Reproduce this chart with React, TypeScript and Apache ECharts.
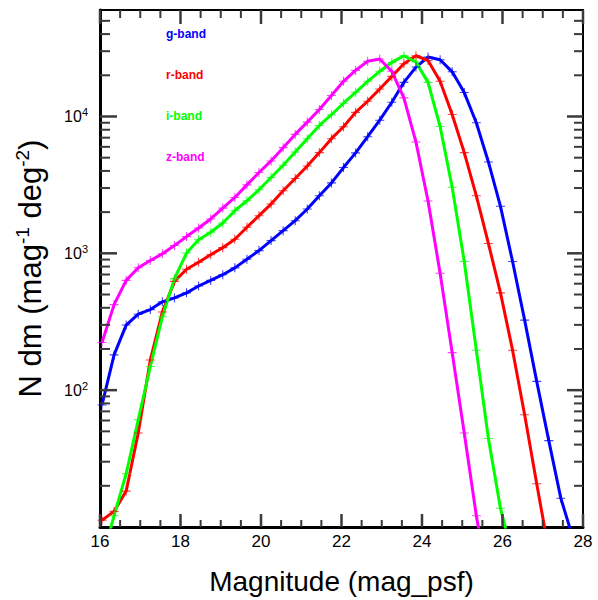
import React, { useEffect, useRef } from "react";
import * as echarts from "echarts";

// Bin centres (mag_psf)
const magnitudes = [
  16.05, 16.35, 16.65, 16.95, 17.25, 17.55, 17.85, 18.15, 18.45, 18.75,
  19.05, 19.35, 19.65, 19.95, 20.25, 20.55, 20.85, 21.15, 21.45, 21.75,
  22.05, 22.35, 22.65, 22.95, 23.25, 23.55, 23.85, 24.15, 24.45, 24.75,
  25.05, 25.35, 25.65, 25.95, 26.25, 26.55, 26.85, 27.15, 27.45, 27.75,
];

const gBand = [
  78, 181, 299, 359, 388, 442, 472, 514, 577, 634, 698, 783, 905, 1047, 1239,
  1465, 1732, 2107, 2632, 3270, 4234, 5420, 7117, 9398, 12700, 17750, 22970,
  27170, 25990, 21200, 14950, 8995, 4652, 2205, 872, 325, 116, 42.8, 16.2, 8.3,
];
const rBand = [
  11.2, 13.0, 18.3, 48.6, 166, 373, 624, 765, 861, 977, 1100, 1267, 1550, 1884,
  2291, 2863, 3522, 4351, 5445, 6883, 8414, 10720, 12920, 15890, 19630, 24280,
  27790, 25660, 18070, 10340, 5445, 2632, 1180, 514, 196, 66.1, 20.7, 6.7,
];
const iBand = [
  5.8, 12.1, 24.5, 60.8, 149, 344, 653, 1005, 1257, 1426, 1665, 2049, 2421,
  2911, 3583, 4402, 5500, 6883, 8603, 10300, 12500, 15030, 18070, 21380, 24830,
  27790, 25000, 17750, 8450, 3040, 872, 196, 44.3, 13.7, 6.1,
];
const zBand = [
  223, 422, 634, 785, 887, 991, 1140, 1325, 1530, 1782, 2140, 2560, 3165, 3895,
  4732, 5918, 7398, 9097, 11250, 14220, 18070, 21720, 25300, 26280, 21380,
  13680, 6503, 2410, 716, 188, 48.7, 12.1, 3.8,
];

const bandNames = ["g-band", "r-band", "i-band", "z-band"];
const bandColors = ["#0000ff", "#ff0000", "#00ff00", "#ff00ff"];
const bandValues = [gBand, rBand, iBand, zBand];

// Tick positions
const xMajorTicks = [16, 18, 20, 22, 24, 26, 28];
const xMinorTicks = [
  16.5, 17, 17.5, 18.5, 19, 19.5, 20.5, 21, 21.5, 22.5, 23, 23.5, 24.5, 25,
  25.5, 26.5, 27, 27.5,
];
const yMajorTicks = [100, 1000, 10000];
const yMinorTicks = [
  20, 30, 40, 50, 60, 70, 80, 90, 200, 300, 400, 500, 600, 700, 800, 900, 2000,
  3000, 4000, 5000, 6000, 7000, 8000, 9000, 20000, 30000, 40000, 50000,
];

const X_MIN = 16;
const X_MAX = 28;
const Y_MIN = 10;
const Y_MAX = 60000;
const FONT = "Liberation Sans, Arial, Helvetica, sans-serif";
const CROSS = "path://M0,4.4H10V5.6H0Z M4.4,0H5.6V10H4.4Z";
const TICK_COLOR = "#3a3a3a";

export default function App() {
  const ref = useRef<HTMLDivElement>(null);
  useEffect(() => {
    const chart = echarts.init(ref.current as HTMLDivElement, null, {
      renderer: "svg",
    });

    const lineSeries = bandNames.map((name, s) => ({
      type: "line",
      name,
      data: bandValues[s].map((v, i) => [magnitudes[i], v]),
      symbol: CROSS,
      symbolSize: 9,
      showAllSymbol: true,
      clip: true,
      lineStyle: { width: 3, color: bandColors[s] },
      itemStyle: { color: bandColors[s], opacity: 0.75 },
      emphasis: { disabled: true },
      z: 3,
    }));

    const option: any = {
      animation: false,
      backgroundColor: "#ffffff",
      textStyle: { fontFamily: FONT },
      grid: {
        left: 100,
        right: 15,
        top: 10,
        bottom: 72,
        show: true,
        borderColor: "#000",
        borderWidth: 2,
      },
      legend: {
        orient: "vertical",
        left: 156,
        top: 22,
        itemGap: 27,
        itemWidth: 0,
        itemHeight: 14,
        icon: "rect",
        selectedMode: false,
        itemStyle: { opacity: 0 },
        textStyle: { fontFamily: FONT, fontSize: 12, fontWeight: "bold" },
        data: bandNames.map((n, i) => ({
          name: n,
          textStyle: { color: bandColors[i] },
        })),
      },
      xAxis: [
        {
          type: "value",
          position: "bottom",
          min: X_MIN,
          max: X_MAX,
          interval: 2,
          splitLine: { show: false },
          axisLine: { show: true, lineStyle: { color: "#000", width: 3 } },
          axisTick: { show: false },
          axisLabel: {
            color: "#000",
            fontSize: 17,
            fontFamily: FONT,
            margin: 6,
          },
          name: "Magnitude (mag_psf)",
          nameLocation: "middle",
          nameGap: 40,
          nameTextStyle: { color: "#000", fontSize: 28, fontFamily: FONT },
        },
        {
          type: "value",
          position: "top",
          min: X_MIN,
          max: X_MAX,
          interval: 2,
          splitLine: { show: false },
          axisLine: { show: true, lineStyle: { color: "#000", width: 2 } },
          axisTick: { show: false },
          axisLabel: { show: false },
        },
      ],
      yAxis: [
        {
          type: "log",
          logBase: 10,
          min: Y_MIN,
          max: Y_MAX,
          splitLine: { show: false },
          axisLine: { show: true, lineStyle: { color: "#000", width: 3 } },
          axisTick: { show: false },
          minorTick: { show: false },
          axisLabel: {
            color: "#000",
            fontSize: 16,
            fontFamily: FONT,
            margin: 12,
            formatter: (v: number) => {
              const e = Math.log10(v);
              const r = Math.round(e);
              if (Math.abs(e - r) > 1e-6 || r < 2 || r > 4) return "";
              return "10{sup|" + r + "}";
            },
            rich: {
              sup: {
                fontSize: 11,
                fontFamily: FONT,
                color: "#000",
                verticalAlign: "top",
                padding: [0, 0, 8, 0],
              },
            },
          },
          name: "N dm (mag{sup|-1} deg{sup|-2})",
          nameLocation: "middle",
          nameRotate: 90,
          nameGap: 52,
          nameTextStyle: {
            color: "#000",
            fontSize: 31,
            fontFamily: FONT,
            rich: {
              sup: {
                fontSize: 19,
                fontFamily: FONT,
                color: "#000",
                verticalAlign: "top",
                padding: [0, 0, 16, 0],
              },
            },
          },
        },
      ],
      series: lineSeries,
    };

    chart.setOption(option);

    // Inside ticks on all four frame sides, placed through the chart's own scales
    const tickEls: any[] = [];
    const seg = (x1: number, y1: number, x2: number, y2: number, w: number) =>
      tickEls.push({
        type: "line",
        z: 50,
        shape: { x1, y1, x2, y2 },
        style: { stroke: TICK_COLOR, lineWidth: w },
      });
    const px = (x: number, y: number) =>
      chart.convertToPixel({ gridIndex: 0 }, [x, y]) as number[];

    const addY = (vals: number[], lenL: number, lenR: number, w: number) => {
      vals.forEach((v) => {
        const p = px(X_MIN, v);
        const q = px(X_MAX, v);
        seg(p[0], p[1], p[0] + lenL, p[1], w);
        seg(q[0], q[1], q[0] - lenR, q[1], w);
      });
    };
    const addX = (vals: number[], lenB: number, lenT: number, w: number) => {
      vals.forEach((m) => {
        const b = px(m, Y_MIN);
        const t = px(m, Y_MAX);
        seg(b[0], b[1], b[0], b[1] - lenB, w);
        seg(t[0], t[1], t[0], t[1] + lenT, w);
      });
    };
    addY(yMajorTicks, 17, 16, 2.5);
    addY(yMinorTicks, 10, 9, 2);
    addX(xMajorTicks, 13, 14, 2.5);
    addX(xMinorTicks, 7, 8, 2);
    chart.setOption({ graphic: tickEls });

    return () => chart.dispose();
  }, []);

  return (
    <div
      ref={ref}
      style={{
        position: "fixed",
        left: 0,
        top: 0,
        width: 598,
        height: 600,
        background: "#fff",
      }}
    />
  );
}
